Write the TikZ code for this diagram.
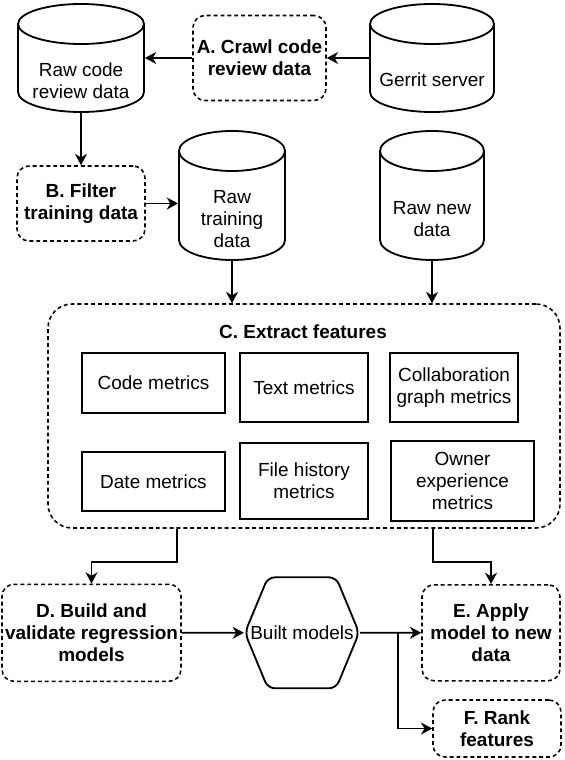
\documentclass[tikz,border=0pt]{standalone}
\usepackage{fontspec}
\setmainfont{Liberation Sans}
\usetikzlibrary{shapes.geometric, shapes.symbols, arrows.meta, positioning, calc}

\begin{document}
\begin{tikzpicture}[
    font=\fontsize{13.5}{15.8}\selectfont,
    datastore/.style={cylinder, shape border rotate=90, aspect=0.4, inner xsep=1.25cm, inner ysep=0pt, draw, line width=1.3pt, anchor=shape center},
    storetext/.style={align=center, inner sep=0pt},
    process/.style={rectangle, draw, line width=1.1pt, dash pattern=on 2.8pt off 2.1pt, rounded corners=0.3cm, align=center, inner sep=1pt, font=\fontsize{13.5}{15.8}\selectfont\bfseries},
    group/.style={rectangle, draw, line width=1.1pt, dash pattern=on 2.8pt off 2.1pt, rounded corners=0.6cm, minimum width=12.8cm, minimum height=5.6cm},
    metric/.style={rectangle, draw, line width=1.3pt, align=center, inner sep=2pt},
    model/.style={signal, signal to=west and east, signal pointer angle=135, draw, line width=1.3pt, rounded corners=5pt, inner xsep=-0.44cm, minimum height=2.775cm},
    arrow/.style={-{Stealth[length=8pt, width=8.5pt, inset=2.5pt]}, line width=1.3pt}
]
    \useasboundingbox (0,0) rectangle (14.1,-19);

    % Data sources
    \node[datastore, minimum width=3.15cm, minimum height=2.7cm] (rawcode) at (2.025,-1.45) {};
    \node[storetext] (rawcodetext) at ([yshift=-0.575cm]rawcode.shape center) {Raw code\\review data};
    \node[process, minimum width=3.325cm, minimum height=2.125cm] (crawl) at (6.4875,-1.45) {A. Crawl code\\review data};
    \node[datastore, minimum width=3.1cm, minimum height=2.7cm] (gerrit) at (10.8,-1.45) {};
    \node[storetext] (gerrittext) at ([yshift=-0.55cm]gerrit.shape center) {Gerrit server};

    \node[process, minimum width=3.2cm, minimum height=1.875cm] (filter) at (2.025,-5.0875) {B. Filter\\training data};
    \node[datastore, minimum width=2.65cm, minimum height=3.225cm] (rawtrain) at (5.8,-4.8875) {};
    \node[storetext] (rawtraintext) at ([yshift=-0.5875cm]rawtrain.shape center) {Raw\\training\\data};
    \node[datastore, minimum width=2.6cm, minimum height=3.225cm] (rawnew) at (10.8,-4.8875) {};
    \node[storetext] (rawnewtext) at ([yshift=-0.5875cm]rawnew.shape center) {Raw new\\data};

    % Feature extraction
    \node[group] (extract) at (7.6,-10.4) {};
    \node[font=\fontsize{13.5}{15.8}\selectfont\bfseries] (extracttitle) at (7.575,-8.3) {C. Extract features};
    \node[metric, minimum width=3.575cm, minimum height=1.5cm] (codem) at (3.8375,-9.575) {Code metrics};
    \node[metric, minimum width=3.2cm, minimum height=1.725cm] (textm) at (7.6,-9.6875) {Text metrics};
    \node[metric, minimum width=3.2cm, minimum height=1.725cm] (collabm) at (11.35,-9.6875) {Collaboration\\graph metrics};
    \node[metric, minimum width=3.575cm, minimum height=1.475cm] (datem) at (3.8375,-12.0375) {Date metrics};
    \node[metric, minimum width=3.2cm, minimum height=1.9cm] (filem) at (7.6,-12.025) {File history\\metrics};
    \node[metric, minimum width=3.575cm, minimum height=2cm] (ownerm) at (11.5625,-12.025) {Owner\\experience\\metrics};

    % Models
    \node[process, minimum width=4.475cm, minimum height=2.425cm] (build) at (2.2875,-15.82) {D. Build and\\validate regression\\models};
    \node[model, minimum width=2.85cm] (built) at (7.55,-15.82) {Built models};
    \node[process, minimum width=3.45cm, minimum height=2.4cm] (apply) at (12.275,-15.82) {E. Apply\\model to new\\data};
    \node[process, minimum width=3.2cm, minimum height=1.425cm] (rank) at (12.425,-18.2125) {F. Rank\\features};
    \coordinate (fork) at (9.95,-15.82);

    % Flows
    \draw[arrow] (gerrit.west |- crawl) -- (crawl);
    \draw[arrow] (crawl) -- (crawl -| rawcode.east);
    \draw[arrow] (rawcode) -- (filter);
    \draw[arrow] (filter.east) -- (rawtrain.west |- filter.east);
    \draw[arrow] (rawtrain) -- (rawtrain |- extract.north);
    \draw[arrow] (rawnew) -- (rawnew |- extract.north);
    \draw[arrow] ([xshift=-3.175cm]extract.south) -- ++(0,-0.825) -| (build);
    \draw[arrow] ([xshift=3.225cm]extract.south) -- ++(0,-0.825) -| (apply);
    \draw[arrow] (build) -- (built);
    \draw[arrow] (built) -- (apply);
    \draw[arrow] (fork) |- (rank);
\end{tikzpicture}
\end{document}
